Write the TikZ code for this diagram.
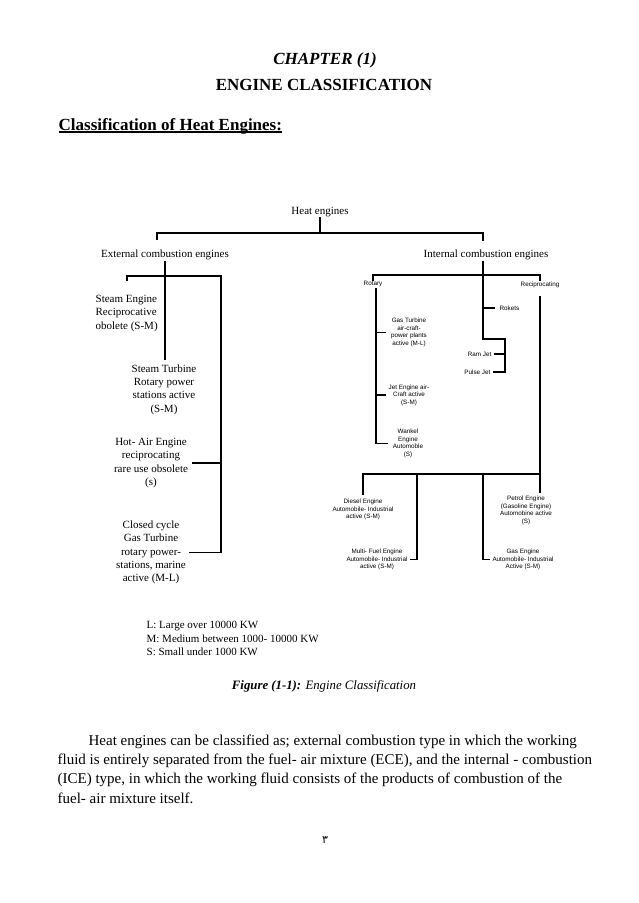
\documentclass[tikz,border=0pt]{standalone}
\usepackage{fontspec}
\setmainfont{Liberation Serif}
\setsansfont{Liberation Sans}
\newfontfamily\arabicfont[Script=Arabic]{DejaVu Sans}
\newcommand{\ulinetext}[1]{\setbox0\hbox{#1}\rlap{\vrule width\wd0 height -1.3pt depth 2.6pt}\box0}
\begin{document}
\begin{tikzpicture}[x=1pt,y=1pt,line width=1.3pt,
    lbl/.style={font=\fontsize{11}{13.3}\selectfont,align=center},
    sml/.style={font=\sffamily\fontsize{6.3}{7.5}\selectfont,align=center},
    head/.style={font=\fontsize{17}{20}\selectfont\bfseries}]
    \tikzstyle{every node}+=[inner sep=0pt]
    \useasboundingbox (0,0) rectangle (638,-903);
    \node [font=\fontsize{17}{20}\selectfont\bfseries\itshape] (chap) at (325,-60) {CHAPTER (1)};
    \node [head] (title) at (324,-85) {ENGINE CLASSIFICATION};
    \node [head,anchor=base west] (cls) at (58,-130) {\ulinetext{Classification of Heat Engines:}};
    \node [lbl] (he) at (320,-212) {Heat engines};
    \node [lbl] (ece) at (165,-255) {External combustion engines};
    \node [lbl] (ice) at (486,-255) {Internal combustion engines};
    \node [lbl,align=left,anchor=west] (se) at (95,-313.5) {Steam Engine\\Reciprocative\\obolete (S-M)};
    \node [lbl] (st) at (164,-389.5) {Steam Turbine\\Rotary power\\stations active\\(S-M)};
    \node [lbl] (hot) at (151,-463) {Hot- Air Engine\\reciprocating\\rare use obsolete\\(s)};
    \node [lbl] (cc) at (151,-552.5) {Closed cycle\\Gas Turbine\\rotary power-\\stations, marine\\active (M-L)};
    \node [sml] (rot) at (373,-284) {Rotary};
    \node [sml] (rec) at (540,-285) {Reciprocating};
    \node [sml,anchor=west] (rok) at (499,-308) {Rokets};
    \node [sml] (gt) at (409,-332.5) {Gas Turbine\\air-craft-\\power plants\\active (M-L)};
    \node [sml,anchor=east] (rj) at (492,-354) {Ram Jet};
    \node [sml,anchor=east] (pj) at (491,-372) {Pulse Jet};
    \node [sml] (je) at (409,-395) {Jet Engine air-\\Craft active\\(S-M)};
    \node [sml] (wk) at (408,-443.5) {Wankel\\Engine\\Automoble\\(S)};
    \node [sml] (de) at (363,-509.5) {Diesel Engine\\Automobile- Industrial\\active (S-M)};
    \node [sml] (pe) at (526,-510.5) {Petrol Engine\\(Gasoline Engine)\\Automobine active\\(S)};
    \node [sml] (mf) at (377,-559.5) {Multi- Fuel Engine\\Automobile- Industrial\\active (S-M)};
    \node [sml] (ge) at (523,-559.5) {Gas Engine\\Automobile- Industrial\\Active (S-M)};
    \node [lbl,align=left,anchor=west] (key) at (146,-638.5) {L: Large over 10000 KW\\M: Medium between 1000- 10000 KW\\S: Small under 1000 KW};
    \node [font=\fontsize{12.8}{15}\selectfont\itshape] (cap) at (324,-686) {\textbf{Figure (1-1):} Engine Classification};
    \node [font=\fontsize{15}{19.4}\selectfont,align=left,anchor=west] (txt) at (57,-769) {\hspace*{31pt}Heat engines can be classified as; external combustion type in which the working\\fluid is entirely separated from the fuel- air mixture (ECE), and the internal - combustion\\(ICE) type, in which the working fluid consists of the products of combustion of the\\fuel- air mixture itself.};
    \node [font=\arabicfont\fontsize{11}{13}\selectfont] (pg) at (325,-840) {٣};
    \coordinate (hbus) at (320,-233);
    \coordinate (ece-t) at (157,-240);
    \coordinate (ice-t) at (483,-241);
    \draw (he) -- (hbus);
    \draw (ece-t) |- (hbus) -| (ice-t);
    \coordinate (se-t) at (127,-281);
    \coordinate (ebus) at (221,-276);
    \draw (se-t) |- (ebus) |- ([xshift=3pt]cc.east);
    \draw [shorten >=4pt] (ece) -- (ece |- st.north);
    \draw ([xshift=3pt]hot.east) -- (hot.east -| ebus);
    \coordinate (ibus) at (483,-275);
    \coordinate (jbus) at (505,-339);
    \draw (rot.north) |- (ibus) -| (rec.north);
    \draw (ice.south -| ibus) |- (jbus) |- ([xshift=2pt]pj.east);
    \draw ([xshift=2pt]rj.east) -- (rj.east -| jbus);
    \draw ([xshift=-4pt]rok.west) -- (rok.west -| ibus);
    \coordinate (rv) at (376,-288);
    \draw (rv) |- ([xshift=-4pt]wk.west);
    \draw ([xshift=-4pt]gt.west) -- (gt.west -| rv);
    \draw ([xshift=-2pt]je.west) -- (je.west -| rv);
    \coordinate (rbus) at (540,-474);
    \coordinate (mf-d) at (417,-474);
    \coordinate (ge-d) at (483,-474);
    \draw ([yshift=-7pt]rec.south) -- (rbus) -| ([yshift=3pt]de.north);
    \draw (rbus) -- ([yshift=3pt]rbus |- pe.north);
    \draw (mf-d) |- ([xshift=2pt]mf.east);
    \draw (ge-d) |- ([xshift=-2pt]ge.west);
\end{tikzpicture}
\end{document}
